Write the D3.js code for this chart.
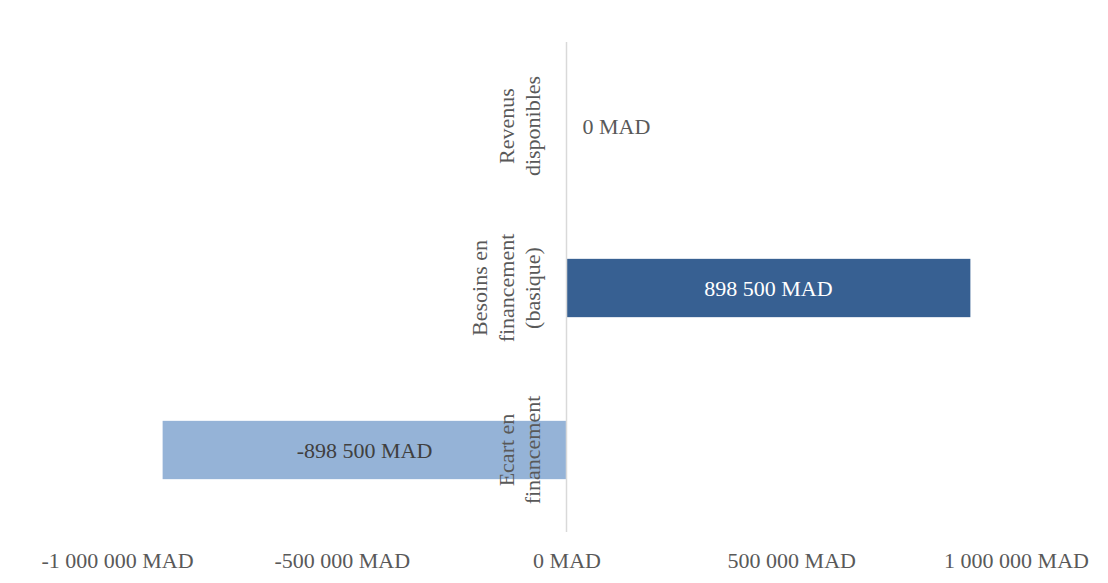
<!DOCTYPE html>
<html>
<head>
<meta charset="utf-8">
<script src="https://cdn.jsdelivr.net/npm/d3@7"></script>
<style>
  body { margin: 0; background: #fff; }
  text { font-family: "Liberation Serif", "DejaVu Serif", serif; }
</style>
</head>
<body>
<script>
var categories = [
  ["Revenus", "disponibles"],
  ["Besoins en", "financement", "(basique)"],
  ["Ecart en", "financement"]
];
var values = [0, 898500, -898500];
var barColors = ["#376092", "#376092", "#95b3d7"];
var labelColors = ["#595959", "#ffffff", "#404040"];
var xTicks = [-1000000, -500000, 0, 500000, 1000000];

var svg = d3.select("body").append("svg")
  .attr("width", 1108)
  .attr("height", 583);

var fmt = function(v) {
  var s = d3.format(",")(v).replace(/,/g, " ").replace("\u2212", "-");
  return s + " MAD";
};

var xScale = d3.scaleLinear().domain([-1000000, 1000000]).range([117, 1016]);
var yScale = d3.scaleBand()
  .domain(d3.range(categories.length))
  .range([45, 531])
  .paddingInner(0.64)
  .paddingOuter(0.32);

// x axis labels (no line)
var xAxis = svg.append("g")
  .attr("transform", "translate(0,551)")
  .call(d3.axisBottom(xScale).tickValues(xTicks).tickSize(0).tickPadding(0).tickFormat(fmt));
xAxis.select(".domain").remove();
xAxis.selectAll("text")
  .attr("dy", "0.75em")
  .style("font-family", "Liberation Serif")
  .style("font-size", "22px")
  .attr("fill", "#595959");

// bars
svg.selectAll("rect.bar")
  .data(values)
  .enter().append("rect")
  .attr("class", "bar")
  .attr("x", function(d) { return xScale(Math.min(0, d)); })
  .attr("width", function(d) { return Math.abs(xScale(d) - xScale(0)); })
  .attr("y", function(d, i) { return yScale(i); })
  .attr("height", yScale.bandwidth())
  .attr("fill", function(d, i) { return barColors[i]; });

// vertical axis line at zero
svg.append("line")
  .attr("x1", xScale(0)).attr("x2", xScale(0))
  .attr("y1", 42).attr("y2", 532)
  .attr("stroke", "#d9d9d9")
  .attr("stroke-width", 1.5);

// category labels, rotated
categories.forEach(function(lines, i) {
  var cy = yScale(i) + yScale.bandwidth() / 2;
  var n = lines.length;
  var g = svg.append("g")
    .attr("transform", "translate(" + 533 + "," + cy + ") rotate(-90)");
  lines.forEach(function(line, j) {
    g.append("text")
      .attr("x", 0)
      .attr("y", -26.5 * (n - 1 - j))
      .attr("dy", "0.33em")
      .attr("text-anchor", "middle")
      .style("font-size", "22px")
      .attr("fill", "#595959")
      .text(line);
  });
});

// data labels
svg.selectAll("text.val")
  .data(values)
  .enter().append("text")
  .attr("class", "val")
  .attr("x", function(d) { return d === 0 ? xScale(0) + 16 : (xScale(0) + xScale(d)) / 2; })
  .attr("y", function(d, i) { return yScale(i) + yScale.bandwidth() / 2; })
  .attr("dy", "0.35em")
  .attr("text-anchor", function(d) { return d === 0 ? "start" : "middle"; })
  .style("font-size", "22px")
  .attr("fill", function(d, i) { return labelColors[i]; })
  .text(fmt);
</script>
</body>
</html>
